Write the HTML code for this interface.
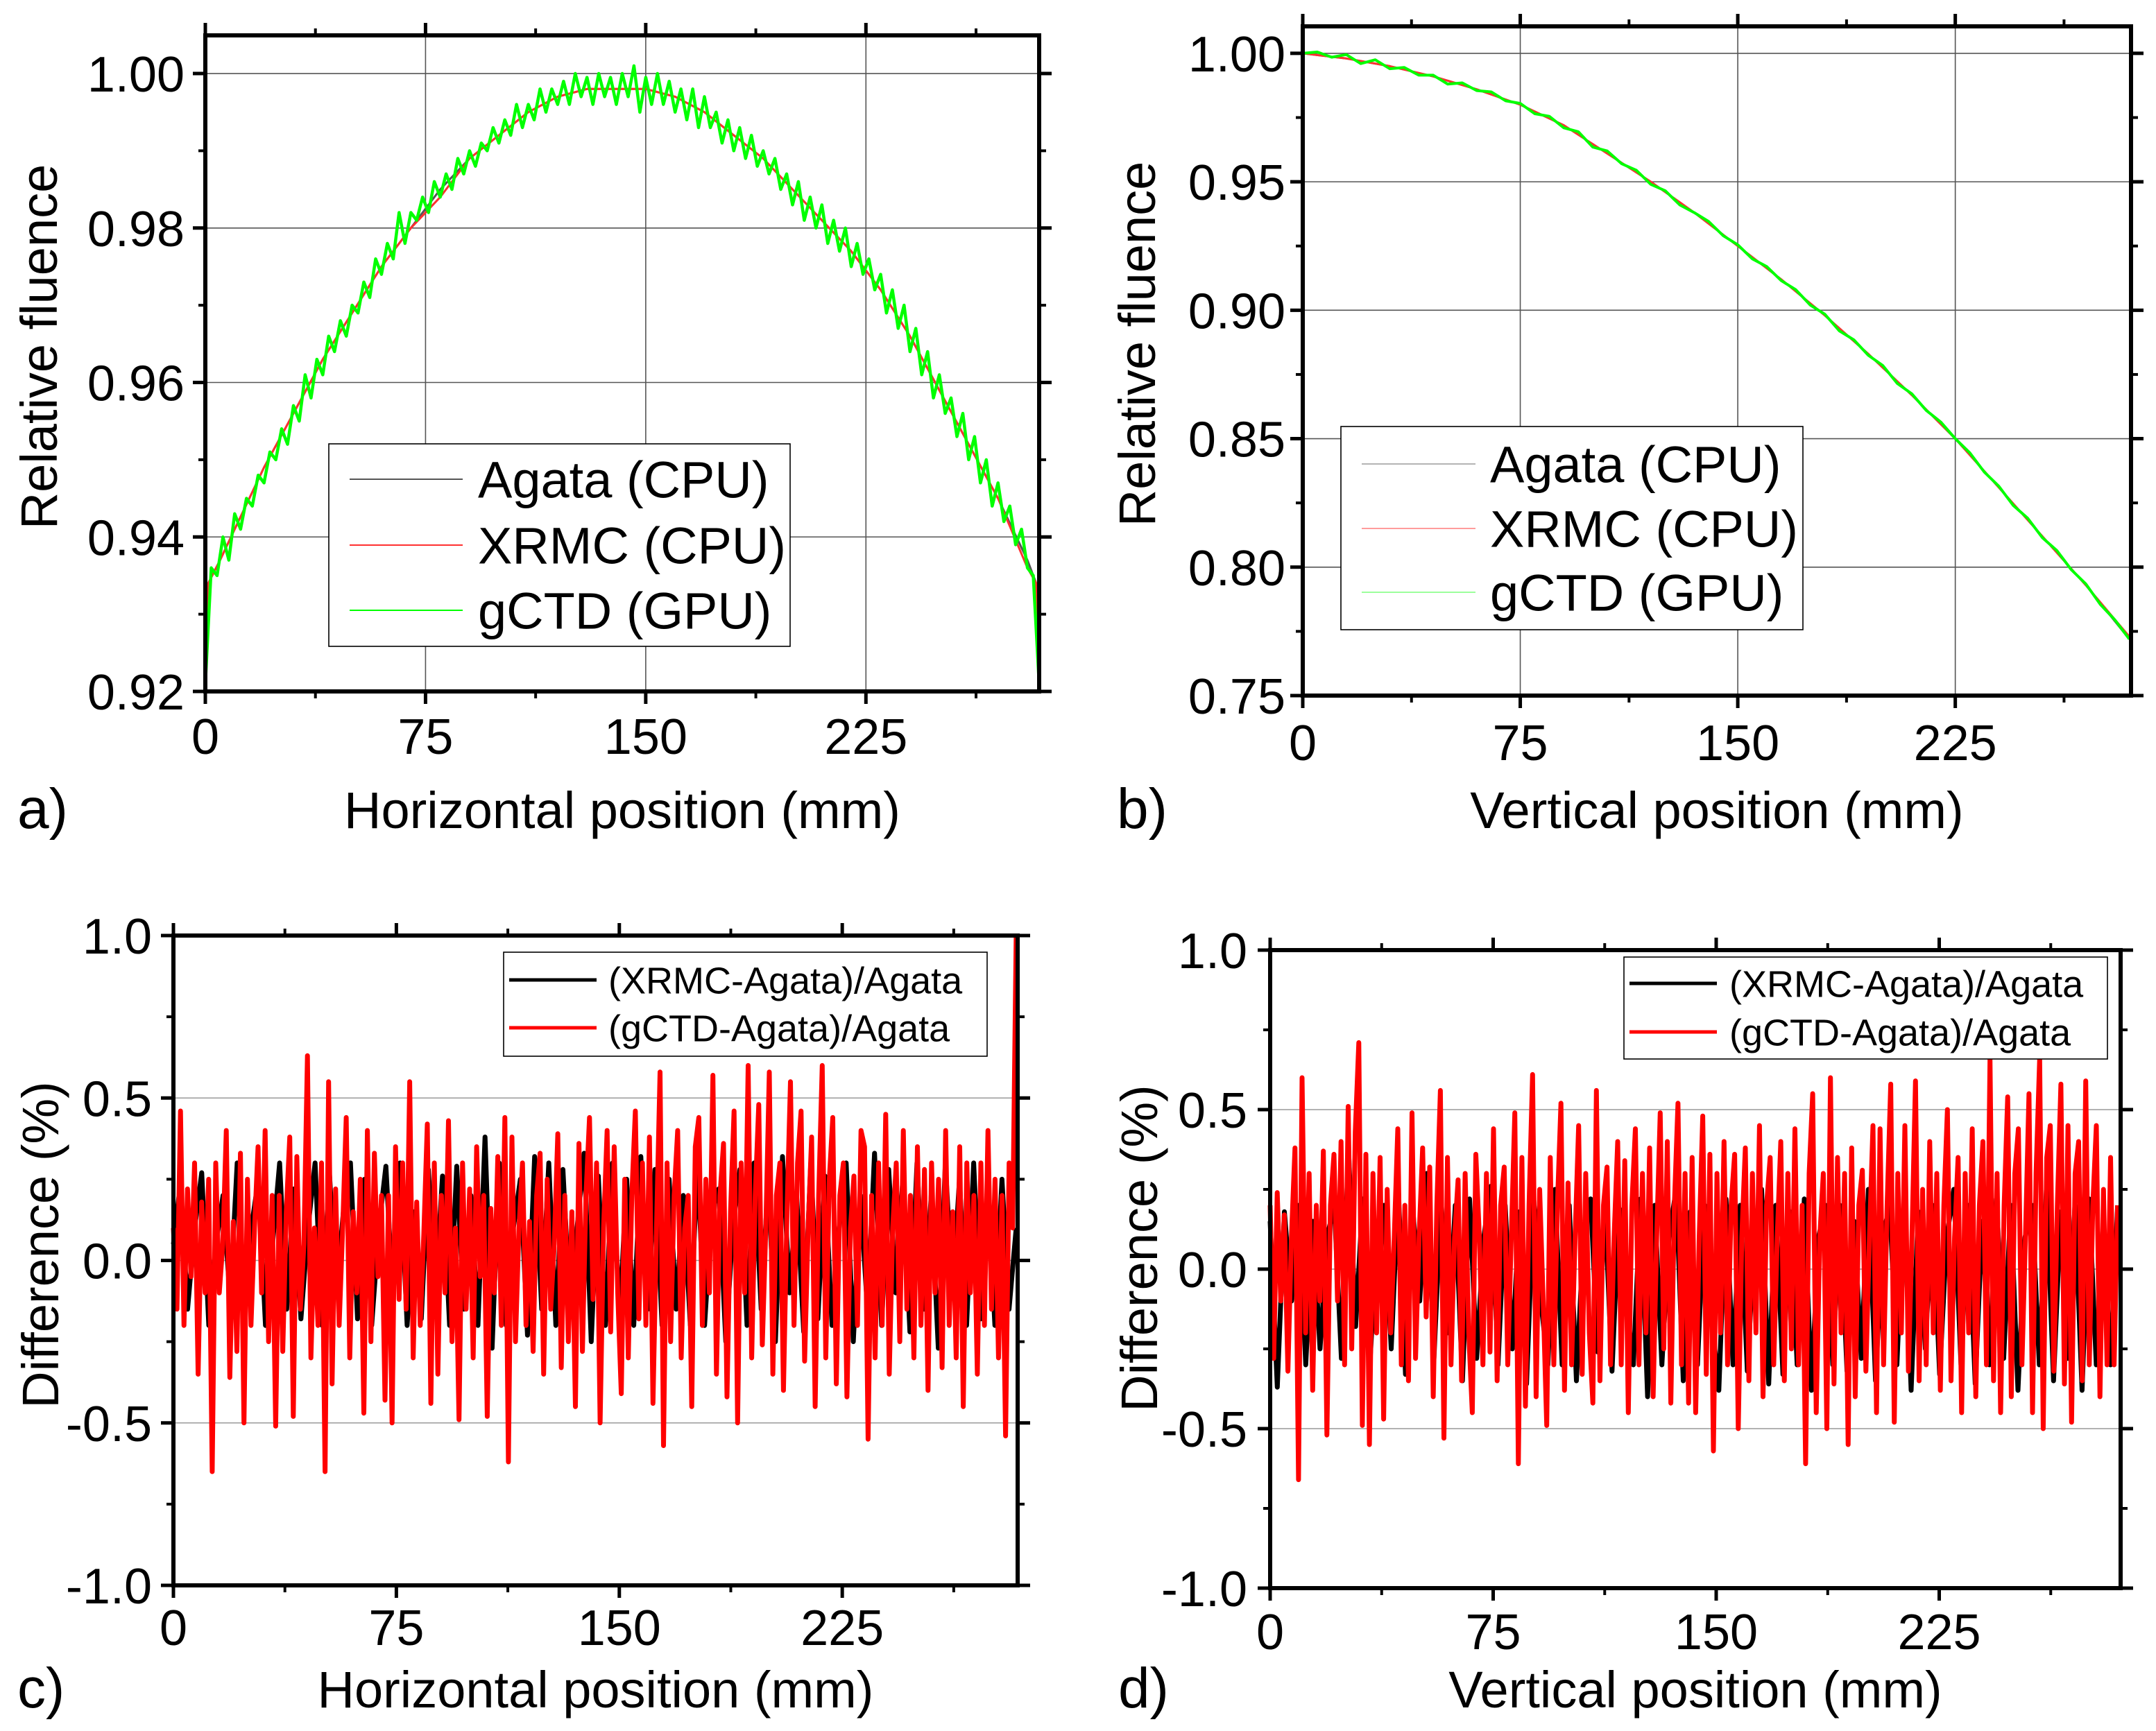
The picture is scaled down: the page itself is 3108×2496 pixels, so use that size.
<!DOCTYPE html>
<html><head><meta charset="utf-8"><style>
html,body{margin:0;padding:0;background:#fff}
svg{display:block}
text{font-family:"Liberation Sans",Arial,sans-serif;fill:#000}
</style></head><body>
<svg id="fig" width="3108" height="2496" viewBox="0 0 3108 2496" xmlns="http://www.w3.org/2000/svg"></svg>
<script>
// ---------- DATA ----------
// Panel a (horizontal profile)
const aAgataX=[0,1,5,10,20,30,40,50,60,70,80,90,100,110,120,130,140,150,160,170,180,190,200,210,220,230,240,250,260,270,280,283,284];
const aAgataY=[0.920,0.934,0.937,0.941,0.949,0.956,0.963,0.969,0.975,0.980,0.985,0.989,0.992,0.995,0.997,0.998,0.998,0.998,0.997,0.995,0.992,0.989,0.985,0.981,0.977,0.972,0.966,0.959,0.952,0.945,0.937,0.934,0.920];
const aXrmcY=[0.920,0.934,0.937,0.941,0.949,0.956,0.963,0.969,0.975,0.980,0.984,0.989,0.992,0.995,0.997,0.998,0.998,0.998,0.997,0.995,0.992,0.989,0.985,0.981,0.977,0.972,0.966,0.959,0.952,0.945,0.936,0.934,0.920];
const aGctdY=[0.921,0.936,0.935,0.940,0.937,0.943,0.941,0.945,0.944,0.948,0.947,0.951,0.950,0.954,0.952,0.957,0.955,0.961,0.958,0.963,0.961,0.966,0.964,0.968,0.966,0.970,0.969,0.973,0.971,0.976,0.974,0.978,0.976,0.982,0.978,0.982,0.981,0.984,0.982,0.986,0.984,0.987,0.985,0.989,0.987,0.990,0.988,0.991,0.990,0.993,0.991,0.994,0.992,0.996,0.993,0.996,0.994,0.998,0.995,0.998,0.996,0.999,0.996,1.000,0.997,0.9995,0.996,1.000,0.997,0.9995,0.996,1.000,0.997,1.001,0.995,0.9995,0.996,1.000,0.996,0.999,0.995,0.998,0.994,0.998,0.993,0.997,0.993,0.995,0.991,0.994,0.990,0.993,0.989,0.992,0.988,0.990,0.987,0.989,0.985,0.987,0.983,0.986,0.981,0.984,0.980,0.983,0.978,0.981,0.977,0.980,0.975,0.978,0.974,0.976,0.972,0.974,0.969,0.972,0.967,0.970,0.964,0.967,0.961,0.964,0.958,0.961,0.956,0.958,0.953,0.956,0.950,0.953,0.947,0.950,0.944,0.947,0.942,0.944,0.939,0.941,0.936,0.935,0.921];
// Panel b (vertical profile)
const bX=[0,15,30,45,60,75,90,105,120,135,150,165,180,195,210,225,240,255,270,285];
const bAgataY=[1.000,0.998,0.995,0.991,0.986,0.980,0.972,0.961,0.950,0.938,0.925,0.912,0.898,0.883,0.867,0.850,0.831,0.812,0.793,0.772];
const bXrmcY=[1.000,0.998,0.995,0.991,0.986,0.980,0.972,0.961,0.950,0.938,0.925,0.912,0.898,0.883,0.867,0.850,0.831,0.812,0.793,0.773];
const bGctdY=[1.000,1.0005,0.9985,0.9995,0.996,0.9975,0.994,0.9945,0.9915,0.9915,0.988,0.9885,0.9855,0.985,0.9815,0.9805,0.9765,0.9755,0.971,0.9695,0.9635,0.962,0.957,0.9545,0.949,0.9465,0.941,0.938,0.9345,0.929,0.9255,0.920,0.9170,0.9115,0.908,0.9020,0.8985,0.892,0.8885,0.8825,0.8785,0.8715,0.8675,0.861,0.8565,0.850,0.8445,0.837,0.8315,0.824,0.819,0.8115,0.8065,0.799,0.7935,0.7855,0.7795,0.772];
// Panel c (horizontal difference, %)
const cRed=[0.1,-0.15,0.46,-0.2,0.22,-0.05,0.3,-0.35,0.18,-0.1,0.25,-0.65,0.3,-0.1,0.05,0.4,-0.36,0.12,-0.28,0.33,-0.5,0.25,-0.2,0.1,0.35,-0.1,0.4,-0.25,0.2,-0.51,0.2,-0.28,0.15,0.38,-0.48,0.32,-0.15,0.05,0.63,-0.3,
0.1,-0.2,0.3,-0.65,0.55,-0.38,0.22,-0.2,0.1,0.44,-0.3,0.15,-0.1,0.25,-0.47,0.4,-0.25,0.33,-0.05,0.2,-0.43,0.2,-0.5,0.35,-0.12,0.3,-0.15,0.55,-0.3,0.18,-0.2,0.08,0.42,-0.44,0.3,-0.35,0.2,-0.1,0.43,-0.25,
0.1,-0.49,0.3,-0.15,0.22,-0.3,0.35,-0.05,0.2,-0.48,0.16,-0.1,0.32,-0.2,0.44,-0.62,0.38,-0.25,0.1,0.3,-0.2,0.12,-0.28,0.2,0.33,-0.35,0.25,-0.15,0.05,0.39,-0.33,0.2,-0.25,0.15,-0.45,0.36,-0.28,0.2,0.44,-0.12,
0.3,-0.5,0.1,0.4,-0.22,0.35,-0.1,-0.41,0.25,-0.3,0.2,0.46,-0.18,0.3,-0.2,0.38,-0.44,0.1,0.58,-0.57,0.3,-0.25,0.2,0.4,-0.3,0.1,0.2,-0.45,0.35,0.44,-0.2,0.25,-0.1,0.57,-0.35,0.2,0.36,-0.42,0.15,0.46,
-0.5,0.3,-0.1,0.6,-0.3,0.2,0.48,-0.26,0.1,0.58,-0.35,0.2,0.3,-0.4,0.15,0.55,-0.2,0.3,0.46,-0.31,0.1,0.38,-0.45,0.2,0.6,-0.3,0.25,0.44,-0.38,0.2,0.3,-0.42,0.1,0.26,-0.2,0.4,0.35,-0.55,0.2,-0.3,
0.3,-0.2,0.45,-0.35,0.1,0.3,-0.25,0.4,-0.15,0.2,-0.3,0.35,-0.2,0.28,-0.4,0.3,-0.1,0.25,-0.33,0.4,-0.2,0.15,-0.3,0.35,-0.45,0.3,-0.1,0.2,-0.35,0.3,-0.2,0.4,-0.15,0.25,-0.3,0.2,-0.54,0.3,0.1,1.0];
const cBlack=[0.05,0.24,-0.15,0.1,0.27,-0.2,0.05,0.2,-0.12,0.3,-0.17,0.1,0.25,-0.2,0.05,0.3,-0.15,0.22,-0.18,0.1,0.3,-0.2,0.28,-0.1,0.15,0.3,-0.18,0.25,-0.2,0.1,0.29,-0.12,0.3,-0.2,0.15,-0.18,0.28,-0.1,0.26,-0.2,
0.29,-0.15,0.2,-0.2,0.38,-0.27,0.3,-0.2,0.1,0.25,-0.23,0.32,-0.15,0.3,-0.2,0.28,-0.15,0.1,0.33,-0.25,0.26,-0.2,0.3,-0.18,0.25,-0.2,0.32,-0.15,0.28,-0.2,0.25,-0.15,0.2,-0.2,0.3,-0.2,0.15,0.22,-0.25,0.1,
0.28,-0.2,0.3,-0.15,0.25,-0.25,0.32,-0.1,0.2,-0.22,0.3,-0.18,0.26,-0.2,0.1,0.3,-0.25,0.2,-0.15,0.33,-0.2,0.28,-0.1,0.25,-0.22,0.3,-0.15,0.2,-0.27,0.3,-0.1,0.25,-0.2,0.3,-0.18,0.22,-0.2,0.25,-0.15,0.1];
// Panel d (vertical difference, %)
const dRed=[0.2,-0.28,0.24,-0.1,0.17,-0.32,0.1,0.38,-0.66,0.6,-0.2,0.3,-0.38,0.2,-0.1,0.37,-0.52,0.2,0.36,-0.1,0.4,-0.3,0.51,-0.25,0.43,0.71,-0.49,0.36,-0.55,0.3,-0.2,0.35,-0.47,0.25,-0.2,0.1,0.44,-0.3,0.2,-0.35,
0.49,-0.28,0.1,0.38,-0.15,0.32,-0.4,0.2,0.56,-0.53,0.35,-0.3,0.1,0.28,-0.35,0.3,-0.2,-0.45,0.36,0.1,-0.3,0.3,-0.26,0.44,-0.35,0.2,0.32,-0.3,0.1,0.49,-0.61,0.35,-0.43,0.2,0.61,-0.4,0.25,-0.1,-0.49,0.35,
-0.3,0.2,0.52,-0.38,0.27,-0.3,0.1,0.45,-0.33,0.3,-0.2,-0.42,0.56,-0.35,0.2,0.32,-0.3,0.1,0.4,-0.3,0.34,-0.45,0.2,0.44,-0.3,0.3,-0.2,0.38,-0.4,0.1,0.49,-0.25,0.4,-0.42,0.2,0.52,-0.3,0.3,-0.42,0.35,
-0.45,0.1,0.48,-0.33,0.36,-0.57,0.3,-0.2,0.4,-0.3,0.2,0.36,-0.5,0.1,0.38,-0.35,0.3,-0.2,0.45,-0.4,0.2,0.35,-0.3,0.1,0.4,-0.35,0.3,-0.25,0.44,-0.3,0.2,-0.61,0.3,0.55,-0.45,0.1,0.3,-0.5,0.6,-0.36,
0.35,-0.2,0.3,-0.55,0.38,-0.4,0.2,0.31,-0.32,0.1,0.45,-0.45,0.44,-0.3,0.2,0.58,-0.48,0.3,-0.2,0.45,-0.32,0.1,0.59,-0.35,0.25,-0.3,0.4,-0.2,0.3,-0.38,0.2,0.5,-0.35,0.1,0.35,-0.45,0.3,-0.2,0.44,-0.4,
0.2,0.4,-0.3,0.66,-0.35,0.3,-0.45,0.2,0.54,-0.4,0.3,0.44,-0.3,0.1,0.55,-0.45,0.3,0.66,-0.5,0.35,0.45,-0.32,0.2,0.58,-0.36,0.45,-0.48,0.3,0.4,-0.35,0.59,-0.3,0.2,0.45,-0.4,0.25,-0.3,0.35,-0.3,0.2];
const dBlack=[0.15,-0.37,0.18,-0.1,0.2,-0.3,0.15,-0.25,0.1,0.2,-0.28,0.38,-0.18,0.22,-0.3,0.1,0.2,-0.25,0.25,-0.33,0.2,-0.1,0.3,-0.28,0.22,-0.2,0.2,-0.35,0.22,-0.28,0.1,0.26,-0.3,0.2,-0.25,0.18,-0.36,0.22,-0.1,-0.3,
0.25,-0.3,0.2,-0.35,0.1,0.22,-0.26,0.2,-0.32,0.19,-0.1,-0.3,0.22,-0.4,0.2,-0.3,0.1,0.25,-0.35,0.18,-0.3,0.2,-0.15,-0.38,0.22,-0.3,0.2,-0.32,0.1,0.25,-0.36,0.2,-0.33,0.18,-0.3,0.22,-0.38,0.1,0.2,-0.3,
0.2,-0.32,0.15,-0.28,0.25,-0.35,0.1,0.2,-0.3,0.22,-0.38,0.18,-0.25,0.2,-0.33,0.1,0.25,-0.3,0.2,-0.36,0.15,-0.3,0.22,-0.28,0.2,-0.38,0.1,0.2,-0.3,0.25,-0.35,0.18,-0.28,0.2,-0.38,0.22,-0.3,0.15,-0.3,0.2];
// Tick labels
const aYTicks=[0.92,0.94,0.96,0.98,1.00];
const bYTicks=[0.75,0.80,0.85,0.90,0.95,1.00];
const diffYTicks=[-1.0,-0.5,0.0,0.5,1.0];
const xTicks=[0,75,150,225];

// ---------- DRAWING ----------
const NS='http://www.w3.org/2000/svg';
const svg=document.getElementById('fig');
function mk(tag,attrs,parent){const e=document.createElementNS(NS,tag);for(const k in attrs)e.setAttribute(k,attrs[k]);(parent||svg).appendChild(e);return e;}

function panel(P){
  const g=mk('g',{});
  
  
  const sx=v=>P.L+(v-P.x0)/(P.x1-P.x0)*(P.R-P.L);
  const sy=v=>P.B-(v-P.y0)/(P.y1-P.y0)*(P.B-P.T);
  if(P.vgrid){xTicks.forEach(t=>{if(t>0){const l=mk('line',{x1:sx(t),x2:sx(t),y1:P.T,y2:P.B,stroke:'#555','stroke-width':1.6},g);
    
    }});}
  P.yticks.forEach(t=>{if(t>P.y0+1e-9&&t<P.y1-1e-9){const l=mk('line',{x1:P.L,x2:P.R,y1:sy(t),y2:sy(t),stroke:P.gridCol,'stroke-width':1.6},g);
    
    }});
  P.series.forEach(s=>{
    let d='';
    const n=s.y.length;
    for(let i=0;i<n;i++){const xv=s.x?s.x[i]:P.x0+(P.xEnd-P.x0)*i/(n-1);d+=(i?'L':'M')+sx(xv).toFixed(1)+','+sy(s.y[i]).toFixed(1);}
    const p=mk('path',{d:d,fill:'none',stroke:s.c,'stroke-width':s.w,'stroke-linejoin':'round'},g);
    
    
  });
  const fr=mk('rect',{x:P.L,y:P.T,width:P.R-P.L,height:P.B-P.T,fill:'none',stroke:'#000','stroke-width':6},g);
  
  
  const minors=[37.5,112.5,187.5,262.5];
  xTicks.forEach(t=>{
    mk('line',{x1:sx(t),x2:sx(t),y1:P.B,y2:P.B+18,stroke:'#000','stroke-width':5},g);
    mk('line',{x1:sx(t),x2:sx(t),y1:P.T,y2:P.T-18,stroke:'#000','stroke-width':5},g);
    const tx=mk('text',{x:sx(t),y:P.xlabY,'font-size':72,'text-anchor':'middle'},g);tx.textContent=String(t);
    
    
  });
  minors.forEach(t=>{
    mk('line',{x1:sx(t),x2:sx(t),y1:P.B,y2:P.B+10,stroke:'#000','stroke-width':4},g);
    mk('line',{x1:sx(t),x2:sx(t),y1:P.T,y2:P.T-10,stroke:'#000','stroke-width':4},g);
  });
  P.yticks.forEach((t,i)=>{
    mk('line',{x1:P.L,x2:P.L-18,y1:sy(t),y2:sy(t),stroke:'#000','stroke-width':5},g);
    mk('line',{x1:P.R,x2:P.R+18,y1:sy(t),y2:sy(t),stroke:'#000','stroke-width':5},g);
    if(i<P.yticks.length-1){const m=(t+P.yticks[i+1])/2;
      mk('line',{x1:P.L,x2:P.L-10,y1:sy(m),y2:sy(m),stroke:'#000','stroke-width':4},g);
      mk('line',{x1:P.R,x2:P.R+10,y1:sy(m),y2:sy(m),stroke:'#000','stroke-width':4},g);}
    const ty=mk('text',{x:P.ylabX,y:sy(t)+26,'font-size':72,'text-anchor':'end'},g);ty.textContent=t.toFixed(P.dec);
    
    
  });
  const xt=mk('text',{x:(P.L+P.R)/2,y:P.xtitY,'font-size':74,'text-anchor':'middle'},g);xt.textContent=P.xtitle;
  
  
  const yt=mk('text',{x:0,y:0,'font-size':74,'text-anchor':'middle',transform:'translate('+P.ytitX+','+P.ytitCY+') rotate(-90)'},g);yt.textContent=P.ytitle;
  
  
  const pl=mk('text',{x:P.labX,y:P.xtitY,'font-size':82},g);pl.textContent=P.label;
  
  
  const Lg=P.legend;
  const lg=mk('g',{},g);
  
  
  mk('rect',{x:Lg.x,y:Lg.y,width:Lg.w,height:Lg.h,fill:'#fff',stroke:'#000','stroke-width':1.6},lg);
  Lg.items.forEach((it,i)=>{
    const yy=Lg.rows[i];
    mk('line',{x1:Lg.lx1,x2:Lg.lx2,y1:yy,y2:yy,stroke:it.c,'stroke-width':Lg.lw},lg);
    const t=mk('text',{x:Lg.tx,y:yy+Lg.fs*0.36,'font-size':Lg.fs},lg);t.textContent=it.t;
    
    
  });
}

panel({name:'panel-a-horizontal-profile',L:296,R:1498,T:51,B:997,x0:0,x1:284,xEnd:284,y0:0.92,y1:1.00494,
  vgrid:true,gridCol:'#555',yticks:aYTicks,dec:2,ylabX:266,xlabY:1087,xtitY:1194,xtitle:'Horizontal position (mm)',
  ytitX:82,ytitCY:500,ytitle:'Relative fluence',labX:25,label:'a)',
  series:[{name:'agata-line',x:aAgataX,y:aAgataY,c:'#555',w:3},{name:'xrmc-line',x:aAgataX,y:aXrmcY,c:'#ff3030',w:3},{name:'gctd-line',y:aGctdY,c:'#00ff00',w:4.5}],
  legend:{x:474,y:640,w:665,h:292,lx1:504,lx2:667,tx:689,rows:[691,786,880],fs:74,lw:2,
    items:[{t:'Agata (CPU)',c:'#555'},{t:'XRMC (CPU)',c:'#ff3030'},{t:'gCTD (GPU)',c:'#00ff00'}]}});

panel({name:'panel-b-vertical-profile',L:1878,R:3072,T:38,B:1003,x0:0,x1:285.6,xEnd:285,y0:0.75,y1:1.0105,
  vgrid:true,gridCol:'#555',yticks:bYTicks,dec:2,ylabX:1853,xlabY:1096,xtitY:1194,xtitle:'Vertical position (mm)',
  ytitX:1665,ytitCY:496,ytitle:'Relative fluence',labX:1610,label:'b)',
  series:[{name:'agata-line',x:bX,y:bAgataY,c:'#555',w:3},{name:'xrmc-line',x:bX,y:bXrmcY,c:'#ff3030',w:3},{name:'gctd-line',y:bGctdY,c:'#00ff00',w:4}],
  legend:{x:1933,y:615,w:666,h:293,lx1:1963,lx2:2127,tx:2148,rows:[669,762,854],fs:74,lw:1.2,
    items:[{t:'Agata (CPU)',c:'#888'},{t:'XRMC (CPU)',c:'#ff6060'},{t:'gCTD (GPU)',c:'#60ff60'}]}});

panel({name:'panel-c-horizontal-difference',L:250,R:1467,T:1349,B:2286,x0:0,x1:284,xEnd:283.5,y0:-1,y1:1,
  vgrid:false,gridCol:'#999',yticks:diffYTicks,dec:1,ylabX:219,xlabY:2372,xtitY:2462,xtitle:'Horizontal position (mm)',
  ytitX:84,ytitCY:1795,ytitle:'Difference (%)',labX:25,label:'c)',
  series:[{name:'xrmc-difference-line',y:cBlack,c:'#000',w:7},{name:'gctd-difference-line',y:cRed,c:'#ff0000',w:7}],
  legend:{x:726,y:1373,w:697,h:150,lx1:734,lx2:860,tx:877,rows:[1413,1482],fs:54,lw:5,
    items:[{t:'(XRMC-Agata)/Agata',c:'#000'},{t:'(gCTD-Agata)/Agata',c:'#ff0000'}]}});

panel({name:'panel-d-vertical-difference',L:1831,R:3057,T:1370,B:2290,x0:0,x1:286,xEnd:285,y0:-1,y1:1,
  vgrid:false,gridCol:'#999',yticks:diffYTicks,dec:1,ylabX:1798,xlabY:2378,xtitY:2462,xtitle:'Vertical position (mm)',
  ytitX:1668,ytitCY:1800,ytitle:'Difference (%)',labX:1612,label:'d)',
  series:[{name:'xrmc-difference-line',y:dBlack,c:'#000',w:7},{name:'gctd-difference-line',y:dRed,c:'#ff0000',w:7}],
  legend:{x:2341,y:1380,w:697,h:147,lx1:2349,lx2:2475,tx:2493,rows:[1418,1488],fs:54,lw:5,
    items:[{t:'(XRMC-Agata)/Agata',c:'#000'},{t:'(gCTD-Agata)/Agata',c:'#ff0000'}]}});
</script>
</body></html>
